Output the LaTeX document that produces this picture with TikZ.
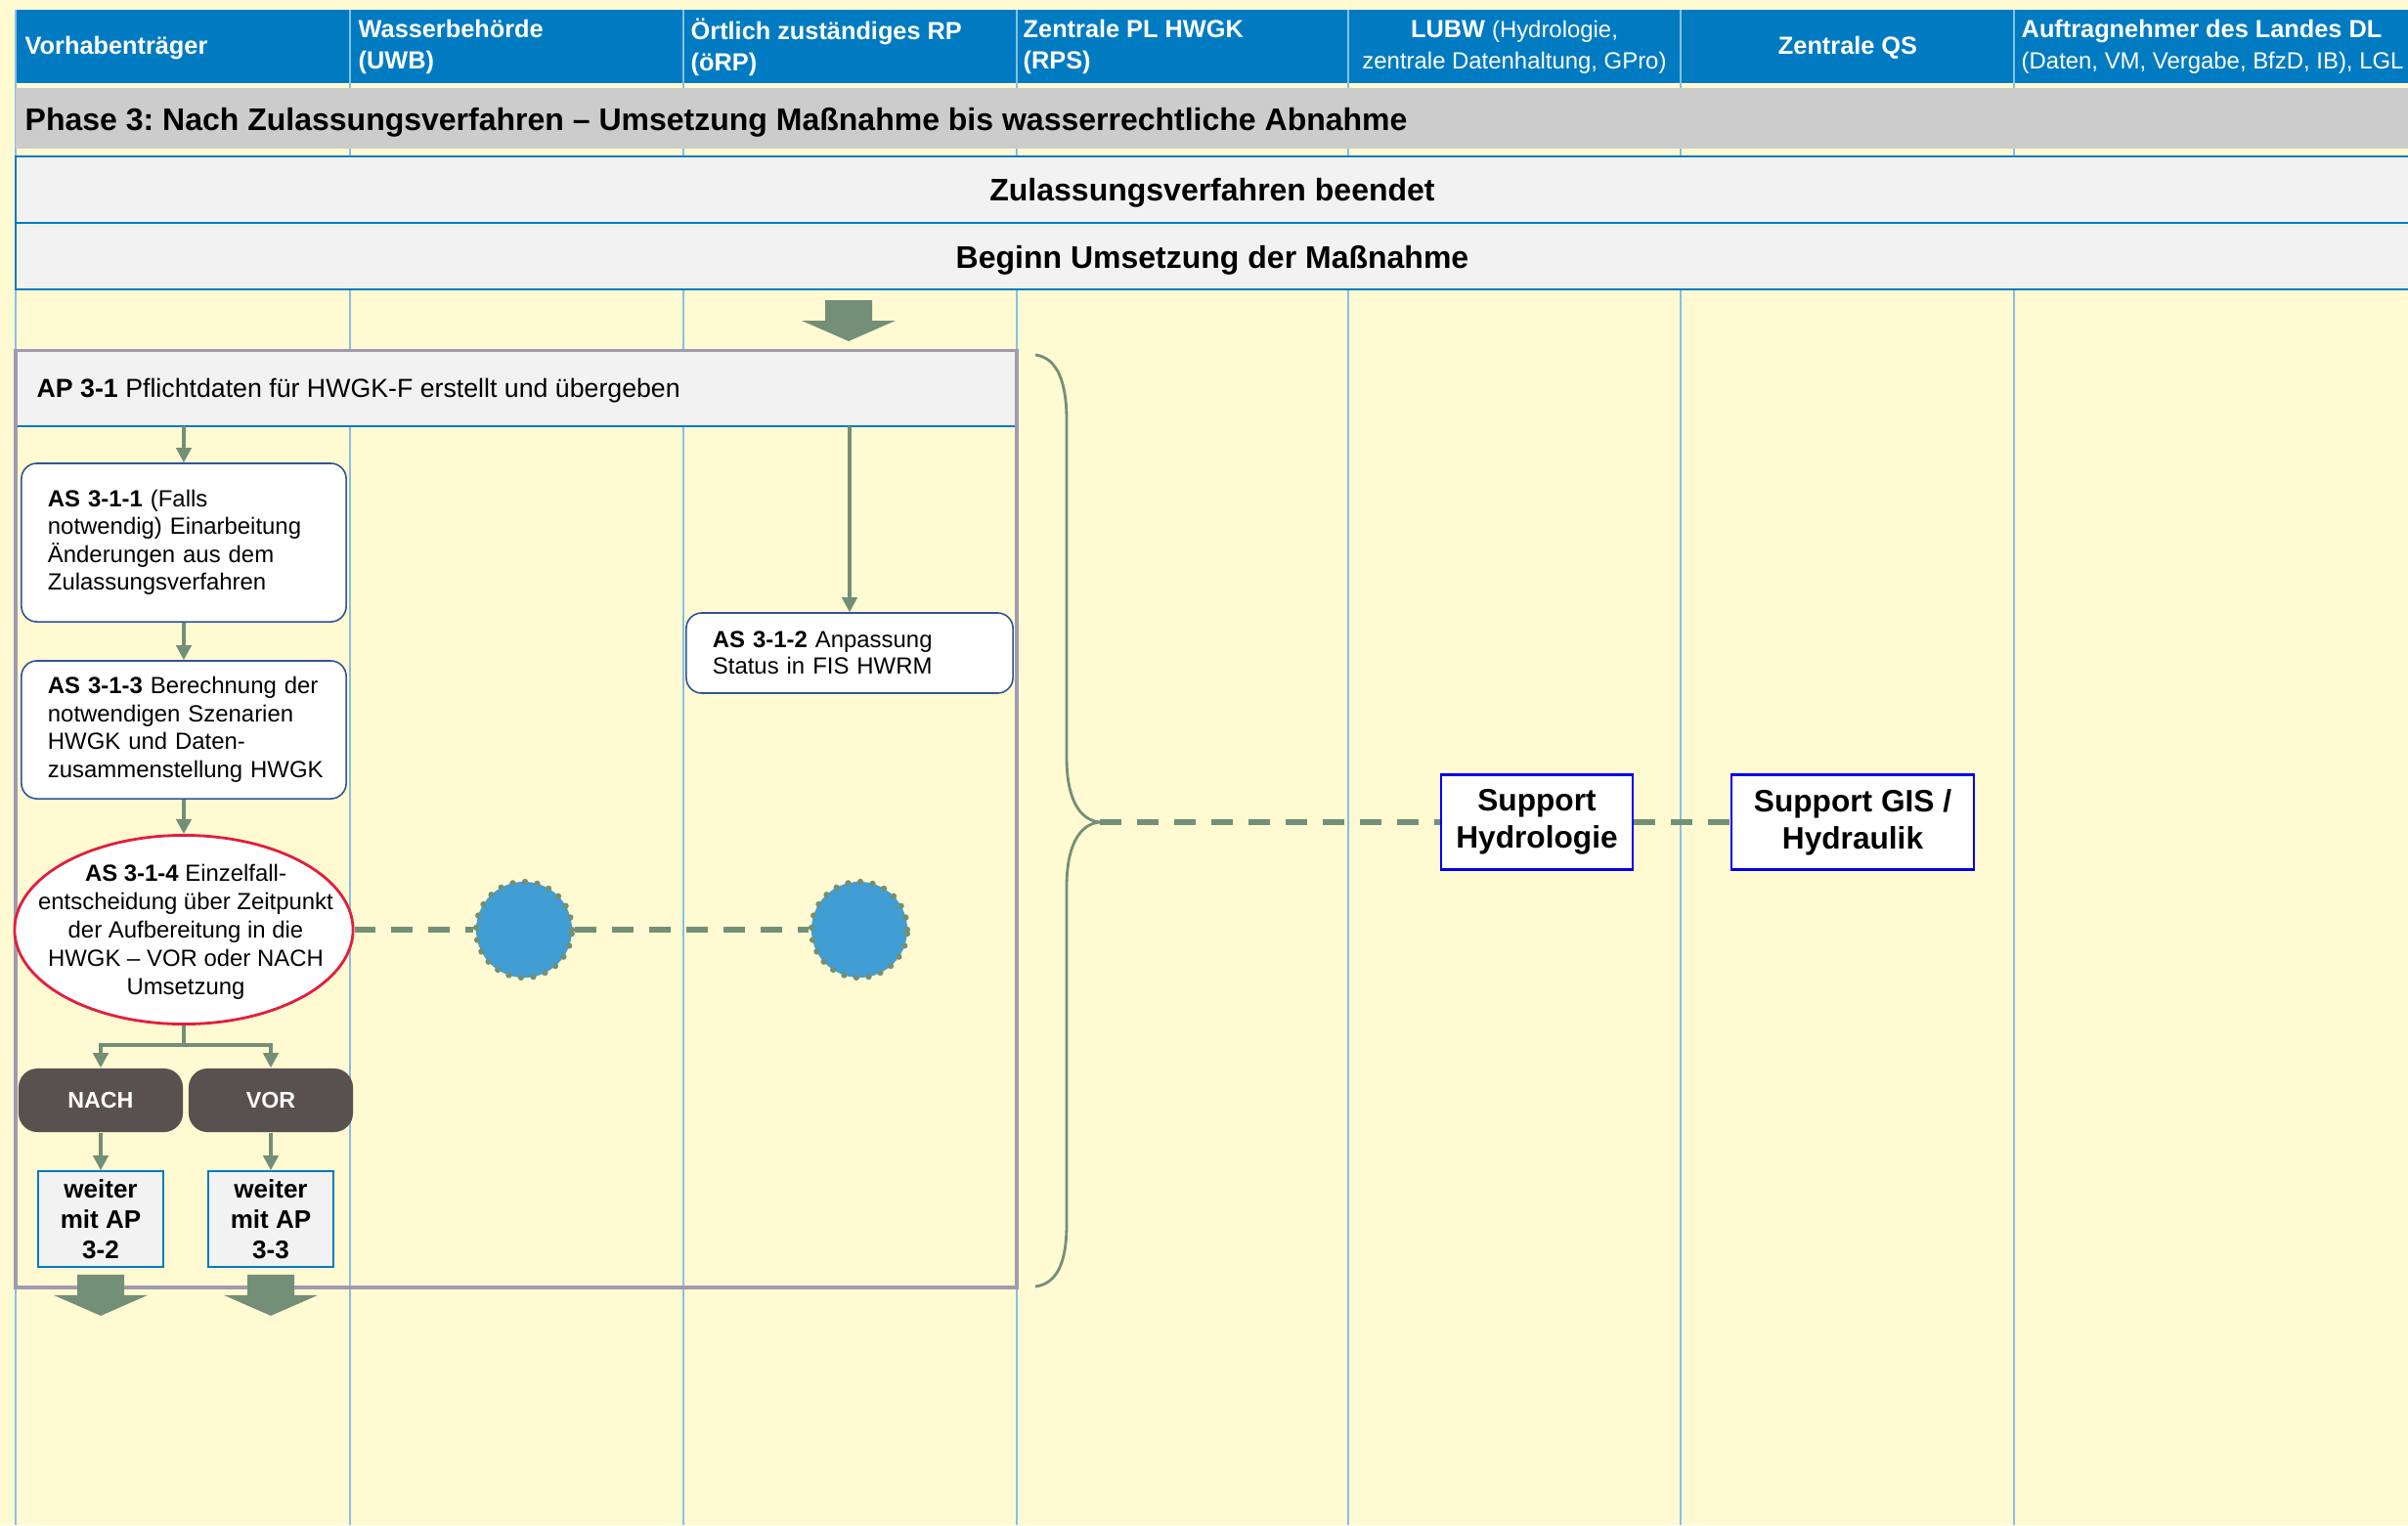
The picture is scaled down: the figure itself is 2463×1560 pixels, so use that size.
\documentclass[tikz,border=0pt]{standalone}
\usepackage{fontspec}
\setmainfont{Liberation Sans}
\frenchspacing
\usetikzlibrary{arrows.meta,shapes.geometric}

\definecolor{lanebg}{RGB}{255,250,210}
\definecolor{laneline}{RGB}{135,192,226}
\definecolor{headblue}{RGB}{0,123,194}
\definecolor{bandgray}{RGB}{204,204,204}
\definecolor{boxgray}{RGB}{242,242,242}
\definecolor{flowgreen}{RGB}{116,143,120}
\definecolor{framegray}{RGB}{161,154,176}
\definecolor{boxblue}{RGB}{47,85,151}
\definecolor{decred}{RGB}{226,30,62}
\definecolor{darkbtn}{RGB}{89,81,80}
\definecolor{dotblue}{RGB}{64,158,212}
\definecolor{supblue}{RGB}{0,0,240}

\begin{document}
\begin{tikzpicture}[x=0.01cm,y=-0.01cm,
    flow/.style={draw=flowgreen,line width=0.9pt,-{Triangle[width=4.4pt,length=4.3pt]}},
    link/.style={draw=flowgreen,line width=1.6pt,dash pattern=on 6.2pt off 4.6pt},
    stepbox/.style={draw=boxblue,fill=white,rounded corners=4.5pt,line width=0.45pt,
      align=left,text width=2.78cm,inner xsep=0.27cm,inner ysep=0pt,
      font=\fontsize{6.8}{8.1}\selectfont},
    bigarrow/.pic={\fill[flowgreen] (-24,0) -- (24,0) -- (24,21) -- (48,21)
      -- (0,42) -- (-48,21) -- (-24,21) -- cycle;}]

  \useasboundingbox (0,0) rectangle (2463,1560);
  \clip (0,0) rectangle (2463,1560);
  \fill[lanebg] (0,0) rectangle (2463,1560);

  % header and lanes
  \fill[headblue] (16,10) rectangle (2463,85);
  \foreach \x in {16,358,699,1040,1379,1719,2060}
    \draw[laneline,line width=0.55pt] (\x,10) -- (\x,1560);

  % bands
  \fill[bandgray] (16,90) rectangle (2463,152);
  \draw[headblue,fill=boxgray,line width=0.6pt] (16,160) rectangle (2480,228);
  \draw[headblue,fill=boxgray,line width=0.6pt] (16,228) rectangle (2480,296);

  \begin{scope}[every node/.style={text=white,inner sep=0pt,
      font=\fontsize{7.2}{9}\selectfont\bfseries}]
    \node[anchor=base west] (vt) at (25,55) {Vorhabenträger};
    \node[anchor=west,align=left] (uwb) at (366,48) {Wasserbehörde\\(UWB)};
    \node[anchor=west,align=left] (orp) at (706,48) {Örtlich zuständiges RP\\(öRP)};
    \node[anchor=west,align=left] (rps) at (1046,48) {Zentrale PL HWGK\\(RPS)};
    \node[align=center] (lubw) at (1549,48)
      {LUBW {\mdseries\fontsize{6.8}{9}\selectfont (Hydrologie,}\\
       {\mdseries\fontsize{6.8}{9}\selectfont zentrale Datenhaltung, GPro)}};
    \node[anchor=base] (qs) at (1890,55) {Zentrale QS};
    \node[anchor=west,align=left] (dl) at (2067,48)
      {Auftragnehmer des Landes DL\\
       {\mdseries\fontsize{6.8}{9}\selectfont (Daten, VM, Vergabe, BfzD, IB), LGL}};
  \end{scope}

  \begin{scope}[every node/.style={inner sep=0pt,font=\fontsize{9.1}{11}\selectfont\bfseries}]
    \node[anchor=base west] (phase) at (25,133)
      {Phase 3: Nach Zulassungsverfahren – Umsetzung Maßnahme bis wasserrechtliche Abnahme};
    \node[anchor=base] (zvende) at (1240,205) {Zulassungsverfahren beendet};
    \node[anchor=base] (beginn) at (1240,274) {Beginn Umsetzung der Maßnahme};
  \end{scope}

  % AP 3-1
  \node[fill=boxgray,minimum width=10.23cm,minimum height=0.76cm,inner sep=0pt]
    (aphead) at (528.5,397) {};
  \node[anchor=base west,inner sep=0pt,font=\fontsize{7.6}{9}\selectfont] (aptext) at (37,406)
    {\textbf{AP 3-1} Pflichtdaten für HWGK-F erstellt und übergeben};
  \draw[headblue,line width=0.6pt] (aphead.south west) -- (aphead.south east);
  \draw[framegray,line width=1pt] (aphead.north west) rectangle (1040,1317);

  \node[stepbox,minimum height=1.62cm] (as311) at (188,555)
    {\textbf{AS 3-1-1} (Falls\\notwendig) Einarbeitung\\Änderungen aus dem\\Zulassungsverfahren};
  \node[stepbox,minimum height=1.41cm] (as313) at (188,746.5)
    {\textbf{AS 3-1-3} Berechnung der\\notwendigen Szenarien\\HWGK und Daten-\\zusammenstellung~HWGK};
  \node[stepbox,text width=2.8cm,minimum height=0.82cm,font=\fontsize{6.8}{7.7}\selectfont]
    (as312) at (869,668) {\textbf{AS 3-1-2} Anpassung\\Status in FIS HWRM};

  \node[ellipse,draw=decred,line width=0.8pt,fill=white,minimum width=3.46cm,
    minimum height=1.93cm,inner sep=0pt] (dec) at (188,951) {};
  \node[align=center,inner sep=0pt,font=\fontsize{6.8}{8.25}\selectfont] (dectext) at (190,953)
    {\textbf{AS 3-1-4} Einzelfall-\\entscheidung über Zeitpunkt\\der Aufbereitung in die\\HWGK – VOR oder NACH\\Umsetzung};

  \begin{scope}[every node/.style={fill=darkbtn,rounded corners=5.5pt,text=white,
      minimum width=1.68cm,minimum height=0.65cm,inner sep=0pt,
      font=\fontsize{6.6}{8}\selectfont\bfseries}]
    \node (nach) at (103,1125.5) {NACH};
    \node (vor) at (277,1125.5) {VOR};
  \end{scope}

  \begin{scope}[every node/.style={draw=headblue,line width=0.5pt,fill=boxgray,
      minimum width=1.28cm,minimum height=0.98cm,inner sep=0pt,align=center,
      font=\fontsize{7.4}{8.8}\selectfont\bfseries}]
    \node (weiter1) at (103,1247) {weiter\\mit AP\\3-2};
    \node (weiter2) at (277,1247) {weiter\\mit AP\\3-3};
  \end{scope}

  \begin{scope}[every node/.style={circle,fill=dotblue,draw=flowgreen,line width=1.8pt,
      dash pattern=on 0pt off 3.6pt,line cap=round,minimum size=0.98cm,inner sep=0pt}]
    \node (dot1) at (536,951) {};
    \node (dot2) at (879,951) {};
  \end{scope}

  \begin{scope}[every node/.style={draw=supblue,line width=0.6pt,fill=white,
      minimum height=0.97cm,inner sep=0pt,align=center,
      font=\fontsize{9}{10.8}\selectfont\bfseries}]
    \node[minimum width=1.96cm] (suphyd) at (1572,841) {Support\\Hydrologie};
    \node[minimum width=2.48cm] (supgis) at (1895,841) {Support GIS /\\Hydraulik};
  \end{scope}

  % brace
  \draw[flowgreen,line width=0.8pt] (1059,363) .. controls (1082,366) and (1091,392) .. (1091,430)
    -- (1091,775) .. controls (1091,815) and (1103,839) .. (1125,841) coordinate (brtip)
    .. controls (1103,843) and (1091,867) .. (1091,907) -- (1091,1252)
    .. controls (1091,1290) and (1082,1313) .. (1059,1316);

  % connectors
  \draw[flow] (aphead.south -| as311.north) -- (as311.north);
  \draw[flow] (aphead.south -| as312.north) -- (as312.north);
  \draw[flow] (as311) -- (as313);
  \draw[flow] (as313) -- (dec);
  \draw[flow] (dec.south) -- ++(0,20) -| (nach.north);
  \draw[flow] (dec.south) -- ++(0,20) -| (vor.north);
  \draw[flow] (nach) -- (weiter1);
  \draw[flow] (vor) -- (weiter2);

  \draw[link] (dec.east) -- (dot1.west);
  \draw[link] (dot1.east) -- (dot2.west);
  \draw[link] (brtip) -- (suphyd.west);
  \draw[link] (suphyd.east) -- (supgis.west);

  \pic at (868,307) {bigarrow};
  \pic at ([yshift=-0.07cm]weiter1.south) {bigarrow};
  \pic at ([yshift=-0.07cm]weiter2.south) {bigarrow};

\end{tikzpicture}
\end{document}
